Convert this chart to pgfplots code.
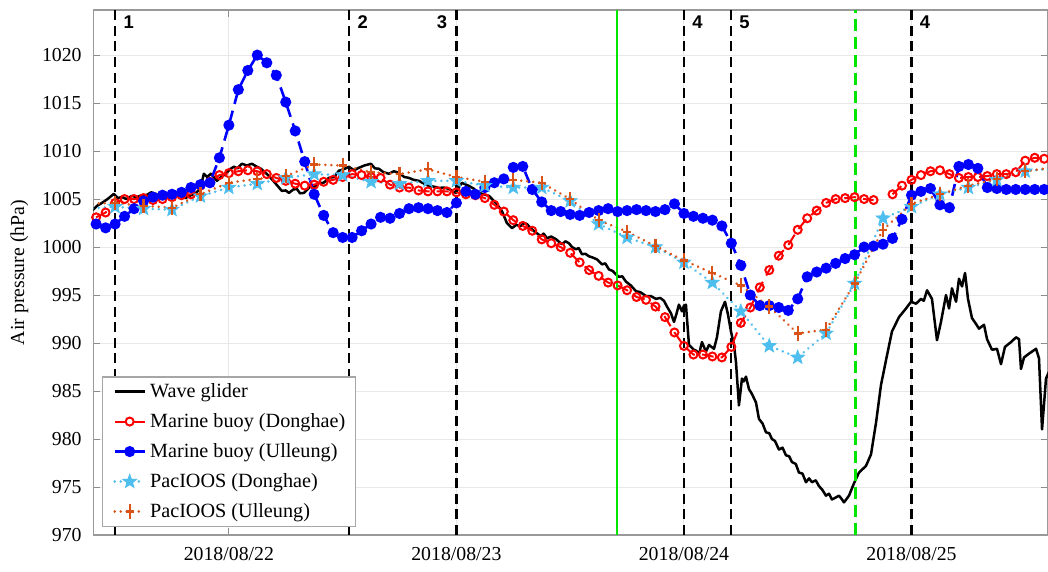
\documentclass[border=0pt]{standalone}
\usepackage{fontspec}
\setmainfont{Liberation Serif}
\newfontfamily\labelfont{Liberation Sans}
\usepackage{pgfplots}
\pgfplotsset{compat=1.18}
\definecolor{mblue}{RGB}{0,0,255}
\definecolor{mred}{RGB}{255,0,0}
\definecolor{mcyan}{RGB}{77,190,238}
\definecolor{morange}{RGB}{217,83,25}
\definecolor{mgreen}{RGB}{0,230,0}
\pgfdeclareplotmark{fstar}{%
  \pgfpathmoveto{\pgfpointpolar{90}{\pgfplotmarksize}}%
  \pgfpathlineto{\pgfpointpolar{126}{0.42\pgfplotmarksize}}%
  \pgfpathlineto{\pgfpointpolar{162}{\pgfplotmarksize}}%
  \pgfpathlineto{\pgfpointpolar{198}{0.42\pgfplotmarksize}}%
  \pgfpathlineto{\pgfpointpolar{234}{\pgfplotmarksize}}%
  \pgfpathlineto{\pgfpointpolar{270}{0.42\pgfplotmarksize}}%
  \pgfpathlineto{\pgfpointpolar{306}{\pgfplotmarksize}}%
  \pgfpathlineto{\pgfpointpolar{342}{0.42\pgfplotmarksize}}%
  \pgfpathlineto{\pgfpointpolar{18}{\pgfplotmarksize}}%
  \pgfpathlineto{\pgfpointpolar{54}{0.42\pgfplotmarksize}}%
  \pgfpathclose
  \pgfusepathqfillstroke}
\begin{document}
\begin{tikzpicture}
\begin{axis}[
  scale only axis, width=477.35pt, height=262.5pt,
  xmin=-14.3, xmax=86.4, ymin=970, ymax=1024.7,
  xtick={0,24,48,72},
  xticklabels={2018/08/22,2018/08/23,2018/08/24,2018/08/25},
  ytick={970,975,...,1020},
  /pgf/number format/1000 sep={},
  /pgf/number format/assume math mode=true,
  tick align=inside, major tick length=3.5pt,
  grid=major, major grid style={color=black!9, line width=0.5pt},
  axis line style={black!40, line width=0.6pt},
  tick style={black!45, line width=0.5pt},
  ticklabel style={font=\fontsize{9.9}{11}\selectfont},
  yticklabel style={xshift=-2.3pt},
  xticklabel style={yshift=-2.5pt},
  ylabel={Air pressure (hPa)},
  ylabel style={font=\fontsize{9.9}{11}\selectfont, at={(axis description cs:-0.0775,0.5)}, anchor=center},
  legend style={at={(0.0088,0.0158)}, anchor=south west, draw=black!35, fill=white,
    font=\fontsize{10.1}{11}\selectfont, cells={anchor=west}, line width=0.6pt,
    row sep=2.5pt, inner xsep=3pt, inner ysep=1pt},
  legend cell align=left,
  every axis plot/.append style={legend image code/.code={\path (0pt,0pt); \draw[mark repeat=2,mark phase=2] plot coordinates {(2.5pt,0pt)(10pt,0pt)(17.5pt,0pt)};}},
  unbounded coords=jump,
]
% Wave glider
\addplot[black, line width=1.25pt, line join=round] coordinates {
(-14.45,1003.75) (-13.9,1004.3) (-13.40,1004.59) (-12.8,1005.0) (-12.13,1005.54) (-11.7,1005.1) (-11.29,1005.22) (-10.8,1005.0)
(-10.23,1005.33) (-9.7,1005.2) (-9.18,1005.4) (-8.65,1005.43) (-8.2,1005.7) (-7.70,1005.54) (-7.2,1005.2) (-6.65,1005.33)
(-6.1,1005.6) (-5.59,1005.43) (-5.1,1005.3) (-4.54,1005.12) (-4.0,1005.4) (-3.48,1005.64) (-3.0,1006.1)
(-2.64,1007.64) (-2.3,1007.3) (-1.90,1007.64) (-1.27,1006.90) (-0.8,1007.3) (-0.32,1007.64) (0.1,1008.1)
(0.53,1008.37) (0.9,1008.2) (1.37,1008.68) (1.9,1008.5) (2.43,1008.68) (2.9,1008.4) (3.38,1008.16) (4.22,1007.42)
(4.96,1006.58) (5.59,1005.85) (6.0,1005.9) (6.33,1005.64) (6.8,1006.0) (7.17,1006.06) (7.5,1005.6) (7.91,1005.64)
(8.65,1006.37) (9.0,1006.2) (9.49,1006.69) (10.0,1006.7) (10.55,1007.21) (11.1,1007.3) (11.60,1007.95) (12.1,1008.1)
(12.66,1008.37) (13.2,1008.0) (13.71,1008.26) (14.3,1008.5) (14.98,1008.68) (15.4,1008.2) (15.82,1008.16) (16.3,1007.8)
(16.88,1007.64) (17.4,1007.9) (17.93,1007.74) (18.5,1007.3) (18.99,1007.21) (19.5,1007.0) (20.04,1006.90) (20.6,1006.6)
(21.10,1006.37) (21.6,1006.3) (22.15,1006.16) (22.7,1006.2) (23.21,1006.06) (23.95,1005.64) (24.3,1006.3) (24.58,1006.69)
(25.32,1006.37) (25.8,1006.1) (26.37,1005.64) (26.9,1005.5) (27.43,1005.33) (28.17,1004.59) (28.80,1003.75) (29.33,1002.49)
(29.86,1001.97) (30.3,1002.3) (30.80,1002.18) (31.1,1002.5) (31.44,1002.39) (31.8,1002.0) (32.18,1001.66) (32.91,1001.13)
(33.2,1001.4) (33.55,1000.92) (34.0,1001.1) (34.50,1000.82) (35.13,1000.29) (35.5,1000.6) (35.87,1000.40) (36.2,1000.0)
(36.61,999.77) (36.9,999.9) (37.24,999.25) (37.6,999.3) (37.98,999.04) (38.4,998.9) (38.82,998.72) (39.35,998.20)
(39.7,998.3) (40.09,997.67) (40.5,997.5) (40.83,997.15) (41.14,996.9) (41.5,996.95) (41.88,996.4) (42.4,996.0)
(42.94,995.4) (43.4,995.3) (43.99,994.9) (44.5,994.9) (45.05,994.6) (45.5,994.7) (45.89,994.4) (46.21,993.8)
(46.63,993.1) (46.95,992.2) (47.2,993.0) (47.47,994.0) (47.79,993.3) (48.0,993.9) (48.21,994.0) (48.53,989.8)
(49.05,989.3) (49.3,989.2) (49.58,988.8) (49.90,990.1) (50.32,989.1) (50.64,989.8) (51.17,989.4) (51.48,990.6)
(51.90,993.3) (52.33,994.3) (52.64,993.0) (52.96,991.2) (53.28,989.8) (53.49,988.0) (53.80,983.5) (54.12,986.3)
(54.3,986.0) (54.54,986.5) (54.86,985.2) (55.17,984.7) (55.60,983.8) (55.91,982.1) (56.3,981.6) (56.65,980.7)
(57.0,980.6) (57.28,980.0) (57.6,979.8) (58.02,978.9) (58.4,979.1) (58.76,978.3) (59.1,978.2) (59.39,977.6)
(59.8,977.4) (60.13,976.5) (60.5,976.4) (60.87,975.5) (61.2,975.9) (61.50,975.5) (61.9,975.7) (62.24,975.1)
(62.6,974.7) (62.98,974.1) (63.3,974.3) (63.61,973.7) (64.0,973.9) (64.35,974.1) (64.6,973.8) (64.88,973.4)
(65.41,974.1) (65.94,975.4) (66.46,976.5) (67.20,977.2) (67.73,978.4) (68.26,981.7) (68.78,985.6) (69.31,988.2)
(69.94,991.2) (70.68,992.7) (71.42,993.6) (71.95,994.3) (72.48,994.1) (73.00,994.6) (73.3,994.4) (73.64,995.5)
(74.16,994.6) (74.69,990.3) (75.11,992.2) (75.64,995.0) (75.96,993.6) (76.27,995.7) (76.70,994.3) (77.01,996.7)
(77.33,995.9) (77.65,997.3) (77.96,994.6) (78.38,992.6) (78.8,992.0) (79.12,991.5) (79.65,991.9) (79.97,990.4)
(80.49,989.3) (81.02,989.4) (81.44,987.8) (81.86,989.6) (82.50,990.1) (83.03,990.6) (83.34,990.4) (83.55,987.3)
(83.87,988.5) (84.40,988.9) (85.14,989.4) (85.45,988.4) (85.77,981.0) (86.19,986.3) (86.5,987.0)
};
\addlegendentry{Wave glider}
% Marine buoy (Donghae)
\addplot[mred, line width=1pt, dash pattern=on 6pt off 3.5pt, mark=o, mark size=2pt, mark options={solid}] coordinates {
(-14,1003.1) (-13,1003.6) (-12,1004.6) (-11,1005.0) (-10,1005.0) (-9,1005.1) (-8,1004.9) (-7,1005.0) (-6,1005.2)
(-5,1005.4) (-4,1005.5) (-3,1006.4) (-2,1006.8) (-1,1007.5) (0,1007.7) (1,1007.9) (2,1008.0) (3,1007.9) (4,1007.6)
(5,1007.2) (6,1006.9) (7,1006.6) (8,1006.4) (9,1006.5) (10,1006.8) (11,1007.0) (12,1007.3) (13,1007.6) (14,1007.5)
(15,1007.3) (16,1007.2) (17,1006.5) (18,1006.2) (19,1006.2) (20,1005.9) (21,1005.8) (22,1005.8) (23,1005.8) (24,1005.7)
(25,1005.5) (26,1005.4) (27,1005.1) (28,1004.4) (29,1003.7) (30,1002.8) (31,1002.2) (32,1001.7) (33,1000.8) (34,1000.4)
(35,1000.0) (36,999.4) (37,998.4) (38,997.6) (39,997.0) (40,996.3) (41,996.0) (42,995.5) (43,994.8) (44,994.5)
(45,993.8) (46,992.7) (47,991.1) (48,989.7) (49,988.8) (50,988.8) (51,988.6) (52,988.5) (53,989.6) (54,992.1)
(55,993.7) (56,995.8) (57,997.6) (58,999.1) (59,1000.2) (60,1001.8) (61,1003.0) (62,1003.8) (63,1004.6) (64,1005.0)
(65,1005.1) (66,1005.2) (67,1005.0) (68,1004.9) (69,nan) (70,1005.5) (71,1006.4) (72,1007.0) (73,1007.5) (74,1007.9)
(75,1008.0) (76,1007.6) (77,1007.2) (78,1007.3) (79,1007.3) (80,1007.4) (81,1007.6) (82,1007.6) (83,1007.8) (84,1009.0)
(85,1009.3) (86,1009.2)
};
\addlegendentry{Marine buoy (Donghae)}
% Marine buoy (Ulleung)
\addplot[mblue, line width=1.3pt, dash pattern=on 6pt off 3.5pt, mark=*, mark size=2.1pt, mark options={solid, fill=mblue}] coordinates {
(-14,1002.4) (-13,1002.0) (-12,1002.4) (-11,1003.2) (-10,1004.0) (-9,1004.8) (-8,1005.2) (-7,1005.4) (-6,1005.5)
(-5,1005.7) (-4,1006.2) (-3,1006.5) (-2,1006.7) (-1,1009.3) (0,1012.7) (1,1016.4) (2,1018.4) (3,1020.0) (4,1019.2)
(5,1017.9) (6,1015.1) (7,1012.1) (8,1008.9) (9,1005.5) (10,1003.3) (11,1001.5) (12,1001.0) (13,1001.0) (14,1001.7)
(15,1002.4) (16,1003.1) (17,1003.0) (18,1003.5) (19,1004.0) (20,1004.1) (21,1004.0) (22,1003.8) (23,1003.6) (24,1004.6)
(25,1005.8) (26,1005.5) (27,1006.2) (28,1006.7) (29,1007.1) (30,1008.3) (31,1008.4) (32,1006.0) (33,1004.7) (34,1003.8)
(35,1003.7) (36,1003.4) (37,1003.3) (38,1003.6) (39,1003.8) (40,1004.0) (41,1003.7) (42,1003.8) (43,1003.9) (44,1003.8)
(45,1003.7) (46,1003.9) (47,1004.5) (48,1003.5) (49,1003.2) (50,1003.0) (51,1002.8) (52,1002.2) (53,1000.4) (54,998.1)
(55,995.0) (56,993.9) (57,993.9) (58,993.7) (59,993.4) (60,994.6) (61,996.9) (62,997.4) (63,997.8) (64,998.3)
(65,998.8) (66,999.2) (67,1000.0) (68,1000.1) (69,1000.3) (70,1000.9) (71,1002.9) (72,1005.4) (73,1005.8) (74,1006.1)
(75,1004.4) (76,1004.1) (77,1008.4) (78,1008.6) (79,1008.2) (80,1006.2) (81,1006.1) (82,1006.0) (83,1006.0) (84,1006.0)
(85,1006.0) (86,1006.0)
};
\addlegendentry{Marine buoy (Ulleung)}
% PacIOOS (Donghae)
\addplot[mcyan, line width=1.4pt, line cap=round, dash pattern=on 0.01pt off 3pt, mark=fstar, mark size=3.6pt, mark options={solid, fill=mcyan, line width=0.4pt}] coordinates {
(-15,1004.0) (-12,1004.2) (-9,1004.0) (-6,1003.9) (-3,1005.3) (0,1006.2) (3,1006.6) (6,1007.2) (9,1007.6) (12,1007.5)
(15,1006.8) (18,1006.6) (21,1006.9) (24,1006.9) (27,1006.4) (30,1006.2) (33,1006.2) (36,1004.8) (39,1002.4) (42,1001.0)
(45,1000.0) (48,998.4) (51,996.3) (54,993.3) (57,989.7) (60,988.5) (63,991.0) (66,996.2) (69,1003.0) (72,1004.2)
(75,1005.5) (78,1006.2) (81,1007.0) (84,1007.9) (87,1008.2)
};
\addlegendentry{PacIOOS (Donghae)}
% PacIOOS (Ulleung)
\addplot[morange, line width=1.4pt, line cap=round, dash pattern=on 0.01pt off 3pt, mark=+, mark size=3.6pt, mark options={solid, xscale=0.55, line width=1.1pt, line cap=butt}] coordinates {
(-15,1004.5) (-12,1004.6) (-9,1004.3) (-6,1004.1) (-3,1005.5) (0,1006.7) (3,1007.1) (6,1007.4) (9,1008.6) (12,1008.5)
(15,1007.8) (18,1007.6) (21,1008.1) (24,1007.3) (27,1006.8) (30,1007.0) (33,1006.7) (36,1005.0) (39,1002.8) (42,1001.6)
(45,1000.1) (48,998.6) (51,997.3) (54,996.0) (57,993.8) (60,991.0) (63,991.4) (66,996.2) (69,1001.8) (72,1004.5)
(75,1005.5) (78,1006.4) (81,1007.1) (84,1007.9) (87,1008.3)
};
\addlegendentry{PacIOOS (Ulleung)}
% vertical event lines
\addplot[forget plot, black, line width=1.1pt, dash pattern=on 5pt off 2.8pt] coordinates {(-12,970) (-12,1024.7)};
\addplot[forget plot, black, line width=1.1pt, dash pattern=on 5pt off 2.8pt] coordinates {(12.7,970) (12.7,1024.7)};
\addplot[forget plot, black, line width=1.1pt, dash pattern=on 5pt off 2.8pt] coordinates {(24,970) (24,1024.7)};
\addplot[forget plot, black, line width=1.1pt, dash pattern=on 5pt off 2.8pt] coordinates {(48,970) (48,1024.7)};
\addplot[forget plot, black, line width=1.1pt, dash pattern=on 5pt off 2.8pt] coordinates {(52.95,970) (52.95,1024.7)};
\addplot[forget plot, black, line width=1.1pt, dash pattern=on 5pt off 2.8pt] coordinates {(72,970) (72,1024.7)};
\addplot[forget plot, mgreen, line width=1.1pt] coordinates {(40.95,970) (40.95,1024.7)};
\addplot[forget plot, mgreen, line width=1.1pt, dash pattern=on 6pt off 3pt] coordinates {(66.1,970) (66.1,1024.7)};
\node[font=\labelfont\bfseries\fontsize{9.2}{10}\selectfont, anchor=north west, inner sep=0pt, xshift=4pt, yshift=-2.5pt] at (axis cs:-12,1024.7) {1};
\node[font=\labelfont\bfseries\fontsize{9.2}{10}\selectfont, anchor=north west, inner sep=0pt, xshift=4pt, yshift=-2.5pt] at (axis cs:12.7,1024.7) {2};
\node[font=\labelfont\bfseries\fontsize{9.2}{10}\selectfont, anchor=north east, inner sep=0pt, xshift=-4.5pt, yshift=-2.5pt] at (axis cs:24,1024.7) {3};
\node[font=\labelfont\bfseries\fontsize{9.2}{10}\selectfont, anchor=north west, inner sep=0pt, xshift=4pt, yshift=-2.5pt] at (axis cs:48,1024.7) {4};
\node[font=\labelfont\bfseries\fontsize{9.2}{10}\selectfont, anchor=north west, inner sep=0pt, xshift=4pt, yshift=-2.5pt] at (axis cs:52.95,1024.7) {5};
\node[font=\labelfont\bfseries\fontsize{9.2}{10}\selectfont, anchor=north west, inner sep=0pt, xshift=4pt, yshift=-2.5pt] at (axis cs:72,1024.7) {4};
\end{axis}
\pgfresetboundingbox
\path[use as bounding box] ([xshift=-46.65pt,yshift=-18.5pt]current axis.south west) rectangle ([yshift=5pt]current axis.north east);
\end{tikzpicture}
\end{document}
